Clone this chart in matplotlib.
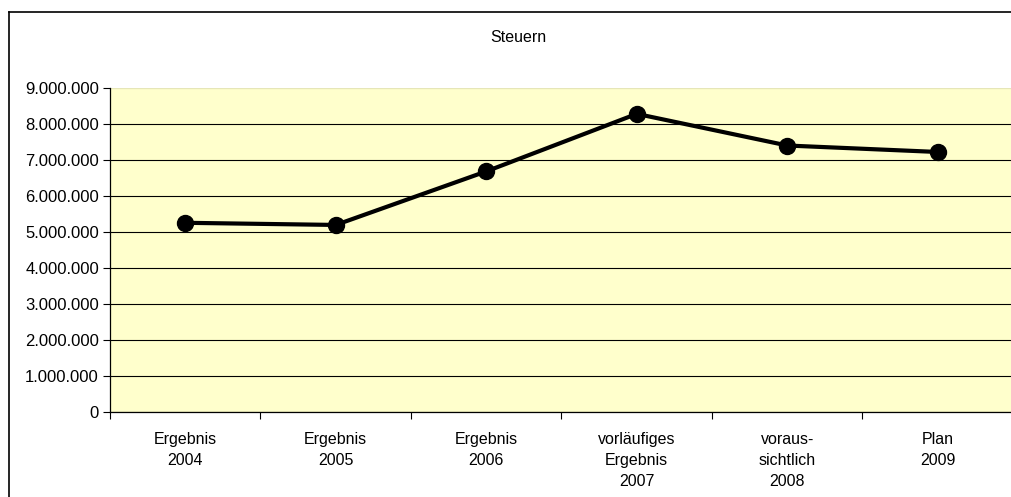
import matplotlib
matplotlib.use("Agg")
import matplotlib.pyplot as plt
from matplotlib.lines import Line2D
from matplotlib.ticker import FuncFormatter, FixedLocator

categories = ["Ergebnis\n2004", "Ergebnis\n2005", "Ergebnis\n2006",
              "vorläufiges\nErgebnis\n2007", "voraus-\nsichtlich\n2008", "Plan\n2009"]
steuern = [5250000, 5190000, 6680000, 8280000, 7400000, 7220000]
y_ticks = [0, 1000000, 2000000, 3000000, 4000000, 5000000, 6000000, 7000000, 8000000, 9000000]
title = "Steuern"

plt.rcParams['font.family'] = ['Liberation Sans', 'DejaVu Sans']

W, H = 1012, 497
fig = plt.figure(figsize=(W / 100, H / 100), dpi=100)

left, right, top, bottom = 110, 1013, 88, 411.5
ax = fig.add_axes([left / W, 1 - bottom / H, (right - left) / W, (bottom - top) / H])
ax.set_facecolor("#FFFFCC")

x = list(range(len(categories)))
ax.plot(x, steuern, color="black", linewidth=3, marker="o", markersize=11.5,
        markerfacecolor="black", markeredgecolor="black", zorder=3, clip_on=False)

ax.set_xlim(-0.5, len(categories) - 0.5)
ax.set_ylim(0, 9000000)
ax.set_yticks(y_ticks)
ax.yaxis.set_major_formatter(FuncFormatter(lambda v, p: f"{int(v):,}".replace(",", ".")))
ax.grid(axis="y", color="black", linewidth=0.8, zorder=1)
ax.set_axisbelow(True)
# the plot area's upper edge carries only a faint border, no gridline
ax.get_ygridlines()[-1].set_visible(False)
ax.axhline(9000000, color="#E6E6B8", linewidth=1.0, zorder=1)

ax.set_xticks(x)
ax.set_xticklabels(categories, linespacing=1.5)
ax.xaxis.set_minor_locator(FixedLocator([i - 0.5 for i in range(len(categories) + 1)]))
ax.tick_params(axis="x", which="major", length=0, pad=15, labelsize=11.5)
ax.tick_params(axis="x", which="minor", length=5, width=0.8, direction="out")
ax.tick_params(axis="y", length=5, width=0.8, direction="out", pad=3, labelsize=12)

for s in ("top", "right"):
    ax.spines[s].set_visible(False)
for s in ("left", "bottom"):
    ax.spines[s].set_color("black")
    ax.spines[s].set_linewidth(0.9)

# outer chart frame
fig.add_artist(Line2D([9 / W, 9 / W], [0, 1 - 12 / H], transform=fig.transFigure,
                      color="black", linewidth=1.2))
fig.add_artist(Line2D([9 / W, 1], [1 - 12 / H, 1 - 12 / H], transform=fig.transFigure,
                      color="black", linewidth=1.2))

fig.text(518 / W, 1 - 38 / H, title, ha="center", va="center", fontsize=11.5)

fig.savefig("out.png", dpi=100)
